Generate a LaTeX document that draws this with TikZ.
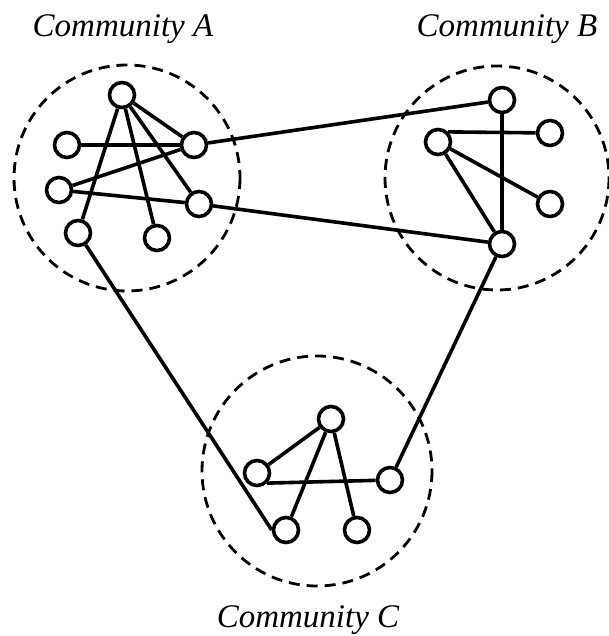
\documentclass[tikz,border=0pt]{standalone}
\usepackage{fontspec}
\setmainfont{Liberation Serif}
\begin{document}
\begin{tikzpicture}[x=1pt,y=-1pt,
  vtx/.style={circle,draw,fill=white,line width=3.6pt,minimum size=25pt,inner sep=0pt},
  comm/.style={draw,line width=2.8pt,dash pattern=on 11pt off 7pt},
  edge/.style={line width=3.6pt},
  lab/.style={font=\fontsize{33}{36}\selectfont\itshape,anchor=base,inner sep=0pt}]
\useasboundingbox (0,0) rectangle (609,636);
% community circles
\draw[comm] (127,178) circle (113);
\draw[comm] (497,178) circle (112);
\draw[comm] (317,471) circle (115);
% labels
\node[lab] (la) at (123,37) {Community A};
\node[lab] (lb) at (507,37) {Community B};
\node[lab] (lc) at (308,627) {Community C};
% community A nodes
\node[vtx] (a1) at (122,95) {};
\node[vtx] (a2) at (67,145) {};
\node[vtx] (a3) at (194,145) {};
\node[vtx] (a4) at (59,190) {};
\node[vtx] (a5) at (199,204) {};
\node[vtx] (a6) at (78,233) {};
\node[vtx] (a7) at (157,238) {};
% community B nodes
\node[vtx] (b1) at (502,100) {};
\node[vtx] (b2) at (438,142) {};
\node[vtx] (b3) at (550,133) {};
\node[vtx] (b4) at (550,204) {};
\node[vtx] (b5) at (502,244) {};
% community C nodes
\node[vtx] (c1) at (331,419) {};
\node[vtx] (c2) at (257,473) {};
\node[vtx] (c3) at (390,480) {};
\node[vtx] (c4) at (286,530) {};
\node[vtx] (c5) at (357,530) {};
% edges
\foreach \u/\v in {a1/a3,a1/a5,a1/a7,a1/a6,a2/a3,a4/a3,a4/a5,
  b1/b5,b2/b4,b2/b5,
  c1/c2,c1/c4,c1/c5,
  a3/b1,a5/b5,b5/c3}
  \draw[edge] (\u) -- (\v);
\draw[edge] (b2.45) -- (b3);
\draw[edge] (c2.-45) -- (c3);
\draw[edge] (a6) -- (c4.west);
\end{tikzpicture}
\end{document}
